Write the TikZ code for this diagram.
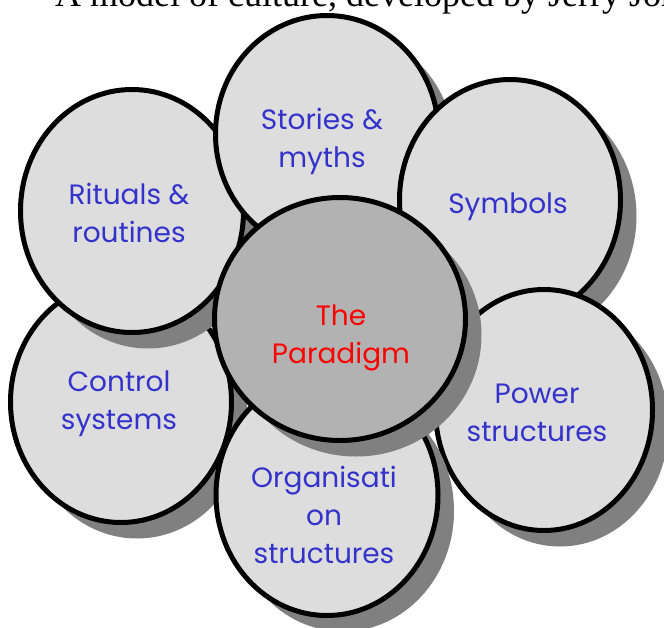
\documentclass[tikz,border=0pt]{standalone}
\usepackage{fontspec}
\setmainfont{Liberation Serif}
\newfontfamily\gothic{Poppins}
\usetikzlibrary{shapes.geometric,shadows}

\definecolor{petalgray}{HTML}{DDDDDD}
\definecolor{coregray}{HTML}{B2B2B2}
\definecolor{shadowgray}{HTML}{808080}
\definecolor{petalblue}{RGB}{51,51,204}

\tikzset{
  petal/.style={ellipse, draw=black, line width=5pt, fill=petalgray, inner sep=0pt,
    general shadow={fill=shadowgray, shadow xshift=16pt, shadow yshift=-16pt}},
  core/.style={petal, fill=coregray},
  lbl/.style={font=\gothic\fontsize{28}{38}\selectfont, text=petalblue, align=center},
}

\begin{document}
\begin{tikzpicture}[x=1pt,y=-1pt]
  \useasboundingbox (0,0) rectangle (664,627);
  \clip (0,0) rectangle (664,627);
  \fill[white] (0,0) rectangle (664,627);
  % title line, cut off by the top edge
  \node[anchor=base west, font=\fontsize{36}{40}\selectfont, inner sep=0pt] (title) at (55,6)
    {A model of culture, developed by Jerry Johnson};

  % outer ring, back to front
  \node[petal, minimum width=221pt, minimum height=241pt] (control) at (121,402) {};
  \node[petal, minimum width=223pt, minimum height=243pt] (rituals) at (132,211) {};
  \node[petal, minimum width=223pt, minimum height=237pt] (stories) at (327,134) {};
  \node[petal, minimum width=221pt, minimum height=241pt] (symbols) at (510,200) {};
  \node[petal, minimum width=217pt, minimum height=241pt] (power) at (544,410) {};
  \node[petal, minimum width=222pt, minimum height=241pt] (organisation) at (327,495) {};
  % centre
  \node[core, minimum width=251pt, minimum height=243pt] (paradigm) at (340,319) {};

  \node[lbl] (storiesL) at (322,141) {Stories \&\\myths};
  \node[lbl] (ritualsL) at (129,213) {Rituals \&\\routines};
  \node[lbl] (symbolsL) at (508,207) {Symbols};
  \node[lbl] (controlL) at (119,404) {Control\\systems};
  \node[lbl] (powerL) at (537,413) {Power\\structures};
  \node[lbl] (organisationL) at (324,515) {Organisati\\on\\structures};
  \node[lbl, text=red] (paradigmL) at (341,338) {The\\Paradigm};
\end{tikzpicture}
\end{document}
